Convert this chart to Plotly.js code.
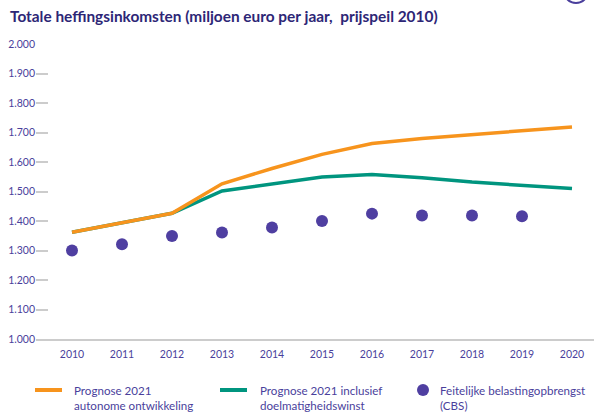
<!DOCTYPE html>
<html>
<head>
<meta charset="utf-8">
<script src="https://cdn.plot.ly/plotly-3.0.1.min.js"></script>
<style>html,body{margin:0;padding:0;background:#fff;}#chart{width:594px;height:412px;}</style>
</head>
<body>
<div id="chart"></div>
<script>
var years = [2010, 2011, 2012, 2013, 2014, 2015, 2016, 2017, 2018, 2019, 2020];
var prognoseAutonoom = [1362, 1395, 1426, 1526, 1578, 1626, 1663, 1680, 1693, 1704, 1719];
var prognoseDoelmatig = [1362, 1395, 1426, 1502, 1527, 1549, 1558, 1547, 1532, 1521, 1510];
var yearsCBS = [2010, 2011, 2012, 2013, 2014, 2015, 2016, 2017, 2018, 2019];
var feitelijkCBS = [1300, 1321, 1349, 1361, 1378, 1400, 1425, 1419, 1419, 1416];
var yTickVals = [1000, 1100, 1200, 1300, 1400, 1500, 1600, 1700, 1800, 1900, 2000];
var yTickText = ['1.000', '1.100', '1.200', '1.300', '1.400', '1.500', '1.600', '1.700', '1.800', '1.900', '2.000'];
var names = ['Prognose 2021<br>autonome ontwikkeling', 'Prognose 2021 inclusief<br>doelmatigheidswinst', 'Feitelijke belastingopbrengst<br>(CBS)'];
var colors = ['#f7941d', '#00957f', '#4f3fa1'];

var FONT = 'Lato, "Open Sans", sans-serif';
var PURPLE = '#4a3f9c';
var FW = 594, FH = 412;
var L = 36, T = 44, B = 339;
function px(p) { return p / FW; }
function py(p) { return 1 - p / FH; }

var traces = [
  {x: years, y: prognoseDoelmatig, type: 'scatter', mode: 'lines', name: names[1],
   line: {color: colors[1], width: 3.5}, hoverinfo: 'skip'},
  {x: years, y: prognoseAutonoom, type: 'scatter', mode: 'lines', name: names[0],
   line: {color: colors[0], width: 3.5}, hoverinfo: 'skip'},
  {x: yearsCBS, y: feitelijkCBS, type: 'scatter', mode: 'markers', name: names[2],
   marker: {color: colors[2], size: 12}, hoverinfo: 'skip'}
];

// legend keys (drawn as paper shapes) and texts (annotations)
var legY = 390;
var legendTextX = [72, 258, 438];
var shapes = [
  {type: 'line', xref: 'paper', yref: 'paper', x0: px(35), x1: px(62), y0: py(legY), y1: py(legY),
   line: {color: colors[0], width: 4}},
  {type: 'line', xref: 'paper', yref: 'paper', x0: px(220), x1: px(247), y0: py(legY), y1: py(legY),
   line: {color: colors[1], width: 4}},
  {type: 'circle', xref: 'paper', yref: 'paper', x0: px(417), x1: px(429), y0: py(legY + 6), y1: py(legY - 6),
   fillcolor: colors[2], line: {color: colors[2], width: 0}},
  {type: 'circle', xref: 'paper', yref: 'paper', x0: px(564), x1: px(588), y0: py(3), y1: py(-21),
   line: {color: '#4a3f9c', width: 2}, layer: 'above'}
];
var annotations = names.map(function (n, i) {
  return {text: n, xref: 'paper', yref: 'paper', x: px(legendTextX[i]), xanchor: 'left',
    y: py(legY - 8), yanchor: 'top', align: 'left', showarrow: false,
    font: {family: FONT, size: 11.6, color: PURPLE}};
});

var layout = {
  width: FW, height: FH,
  margin: {l: 0, r: 0, t: 0, b: 0, pad: 0},
  paper_bgcolor: '#ffffff', plot_bgcolor: '#ffffff',
  showlegend: false,
  title: {text: '<b>Totale heffingsinkomsten (miljoen euro per jaar,  prijspeil 2010)</b>',
    x: 10 / FW, xanchor: 'left', xref: 'container', y: 1 - 17 / FH, yanchor: 'middle', yref: 'container',
    font: {family: FONT, size: 15.4, color: '#2d2676'}},
  xaxis: {domain: [px(L), 1], range: [2009.28, 2020.44], tickvals: years, ticktext: years.map(String),
    showgrid: false, zeroline: false, showline: true, linecolor: '#cccccc', linewidth: 2,
    ticks: '', ticklabelstandoff: 4, automargin: false,
    tickfont: {family: FONT, size: 10.5, color: PURPLE}, fixedrange: true},
  yaxis: {domain: [py(B), py(T)], range: [1000, 2000], tickvals: yTickVals, ticktext: yTickText,
    showgrid: false, zeroline: false, showline: false, automargin: false,
    ticks: 'inside', ticklen: 12, tickwidth: 2, tickcolor: '#cccccc',
    tickfont: {family: FONT, size: 10.5, color: PURPLE}, fixedrange: true},
  shapes: shapes,
  annotations: annotations
};

Plotly.newPlot('chart', traces, layout, {displayModeBar: false, staticPlot: true});
</script>
</body>
</html>
